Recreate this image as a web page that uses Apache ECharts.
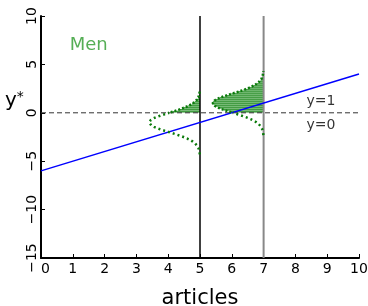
<!DOCTYPE html>
<html lang="en">
<head>
  <meta charset="UTF-8">
  <title>latent y*</title>
  <script src="https://cdn.jsdelivr.net/npm/echarts@6/dist/echarts.min.js"></script>
</head>
<body style="margin:0">
  <div id="main" style="width:368px;height:306px;background:#fff"></div>
  <script>
    // latent regression line y* = a + b*articles
    var lineX = [0, 10]
    var lineY = [-6, 4]
    // conditional densities drawn at these x positions
    var distX = [5, 7]
    var distSd = 1
    var distWidth = 1.6   // horizontal size of the bell, in x units
    var distReach = 3.3   // how many sd the bell is drawn to
    var xTicks = [0, 1, 2, 3, 4, 5, 6, 7, 8, 9, 10]
    var yTicks = [-15, -10, -5, 0, 5, 10]
    var notes = [
      { text: 'Men', x: 1.5, y: 7.0 },
      { text: 'y=1', x: 8.8, y: 1.2 },
      { text: 'y=0', x: 8.8, y: -1.3 }
    ]

    var green = '#0a7a0a'
    var slope = (lineY[1] - lineY[0]) / (lineX[1] - lineX[0])
    function meanAt(x) { return lineY[0] + slope * (x - lineX[0]) }

    // bell curve points, split at the threshold y = 0
    function bell(xc, upper) {
      var mu = meanAt(xc), pts = []
      for (var t = -distReach; t <= distReach + 1e-9; t += 0.05) {
        var y = mu + t * distSd
        var x = xc - distWidth * Math.exp(-t * t / 2)
        if (upper ? y >= 0 : y <= 0) pts.push([x, y])
      }
      return pts
    }

    var series = []
    // blue line
    series.push({ type: 'line', data: [[lineX[0], lineY[0]], [lineX[1], lineY[1]]], showSymbol: false,
      lineStyle: { color: '#0000ff', width: 1.5 }, z: 4 })
    // threshold
    series.push({ type: 'line', data: [[0, 0], [10, 0]], showSymbol: false,
      lineStyle: { color: '#333', width: 1, type: [5, 3] }, z: 3 })
    // verticals
    series.push({ type: 'line', data: [[distX[0], -15], [distX[0], 10]], showSymbol: false,
      lineStyle: { color: '#000', width: 1.5 }, z: 2 })
    series.push({ type: 'line', data: [[distX[1], -15], [distX[1], 10]], showSymbol: false,
      lineStyle: { color: '#888', width: 2 }, z: 2 })

    distX.forEach(function (xc) {
      series.push({ type: 'line', data: bell(xc, false), showSymbol: false,
        lineStyle: { color: green, width: 2.5, type: [2, 3] }, z: 5 })
      series.push({ type: 'line', data: bell(xc, true), showSymbol: false,
        lineStyle: { color: green, width: 2.5, type: [2, 2] }, z: 5 })
    })

    // hatching of the y > 0 part
    series.push({
      type: 'custom',
      data: distX.map(function (xc) { return [xc, meanAt(xc)] }),
      z: 1,
      renderItem: function (params, api) {
        var xc = api.value(0), mu = api.value(1)
        var pts = bell(xc, true)
        var poly = pts.map(function (p) { return api.coord(p) })
        poly.push(api.coord([xc, pts[pts.length - 1][1]]))
        poly.push(api.coord([xc, 0]))
        var kids = [{ type: 'polygon', shape: { points: poly }, style: { fill: '#b0dcb0' } }]
        var top = mu + distReach * distSd
        for (var y = 0.1; y < top; y += 0.206) {
          var t = (y - mu) / distSd
          var x = xc - distWidth * Math.exp(-t * t / 2)
          var a = api.coord([x, y]), b = api.coord([xc, y])
          kids.push({ type: 'line', shape: { x1: a[0], y1: a[1], x2: b[0], y2: b[1] },
            style: { stroke: green, lineWidth: 1 } })
        }
        return { type: 'group', children: kids }
      }
    })

    // text notes
    series.push({
      type: 'scatter', symbolSize: 0, z: 6, silent: true,
      data: notes.map(function (n, i) {
        var d = { value: [n.x, n.y], name: n.text }
        if (i === 0) d.label = { fontSize: 18, color: '#2a9a2a' }
        return d
      }),
      label: { show: true, position: 'inside', formatter: '{b}',
        fontFamily: 'DejaVu Sans', fontSize: 14, color: '#000' }
    })

    var mCharts = echarts.init(document.getElementById('main'))
    mCharts.setOption({
      animation: false,
      grid: { left: 41, right: 9, top: 16, bottom: 48, outerBoundsMode: 'none' },
      xAxis: {
        type: 'value', min: 0, max: 10, interval: 1,
        name: 'articles', nameLocation: 'middle', nameGap: 30,
        nameTextStyle: { fontFamily: 'DejaVu Sans', fontSize: 21, color: '#000' },
        axisLine: { onZero: false, lineStyle: { color: '#000', width: 2 } },
        axisTick: { inside: true, length: 4, lineStyle: { color: '#000' } },
        axisLabel: { fontFamily: 'DejaVu Sans', fontSize: 14, color: '#000', margin: 4,
          alignMinLabel: 'left',
          formatter: function (v) { return xTicks.indexOf(v) < 0 ? '' : String(v) } },
        splitLine: { show: false }
      },
      yAxis: {
        type: 'value', min: -15, max: 10, interval: 5,
        axisLine: { show: true, onZero: false, lineStyle: { color: '#000', width: 2 } },
        axisTick: { show: true, inside: true, length: 4, lineStyle: { color: '#000' } },
        axisLabel: { fontFamily: 'DejaVu Sans', fontSize: 14, color: '#000', rotate: 90, margin: 2,
          formatter: function (v) { return yTicks.indexOf(v) < 0 ? '' : String(v).replace('-', '−') } },
        splitLine: { show: false }
      },
      graphic: [{
        type: 'text', left: 5, top: 90,
        style: { text: '{y|y}{s|*}', rich: {
          y: { fontFamily: 'DejaVu Sans', fontSize: 20, fill: '#000' },
          s: { fontFamily: 'DejaVu Sans', fontSize: 14, fill: '#000', verticalAlign: 'top', padding: [0, 0, 8, 0] } } }
      }],
      series: series
    })
  </script>
</body>
</html>
